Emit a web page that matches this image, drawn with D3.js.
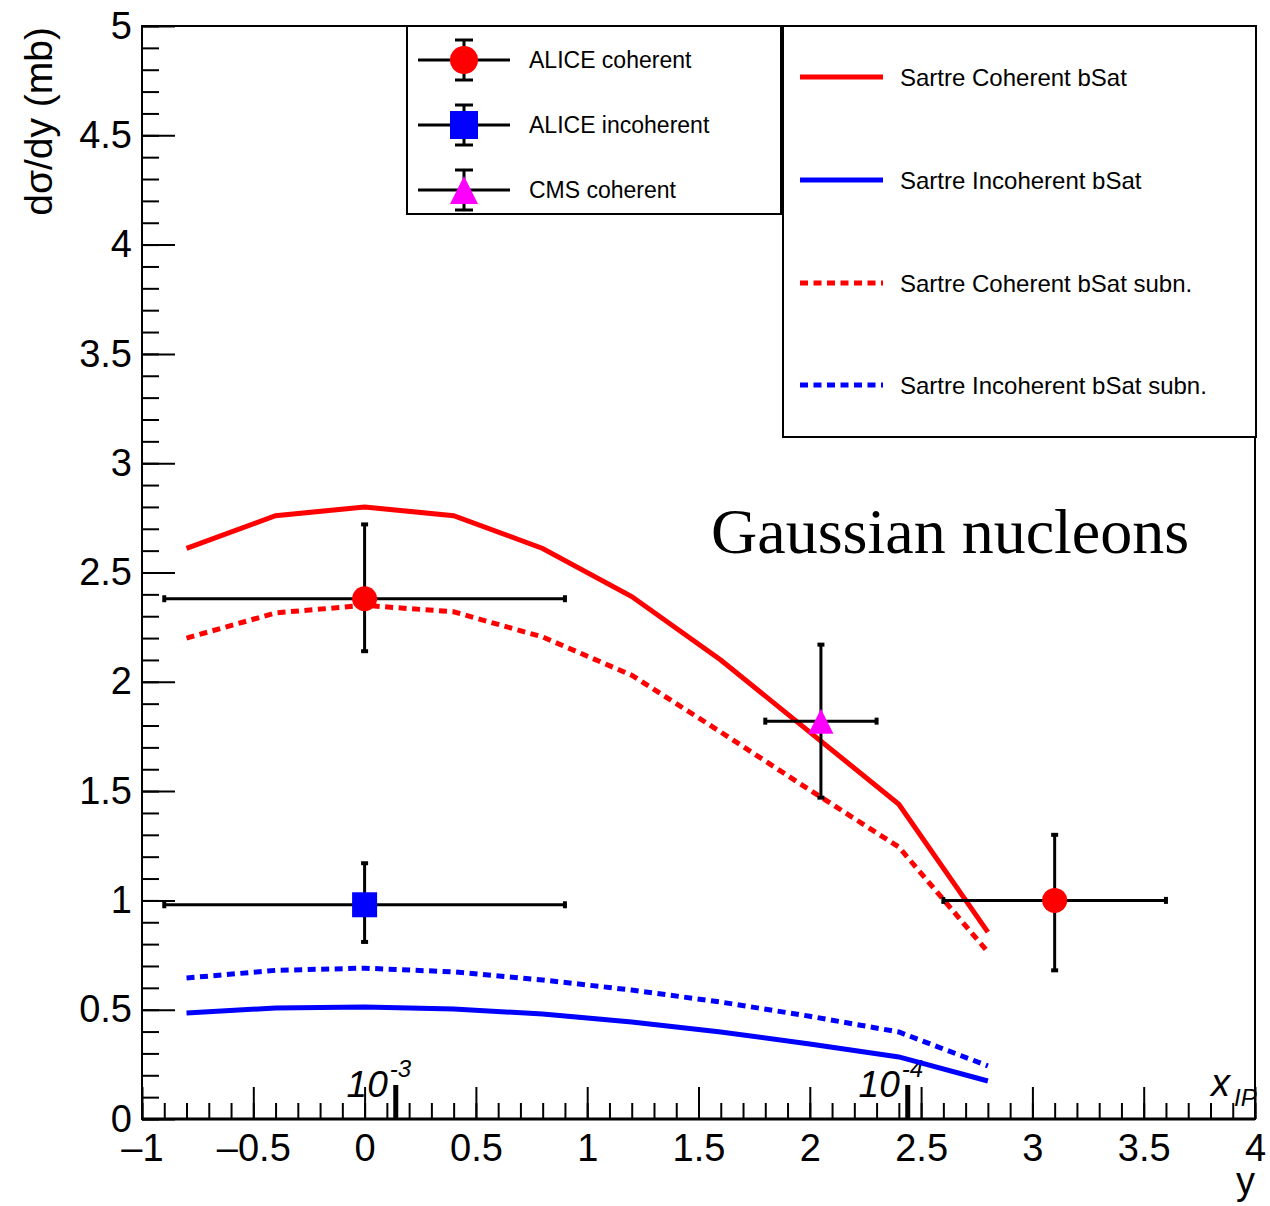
<!DOCTYPE html>
<html>
<head>
<meta charset="utf-8">
<script src="https://cdn.jsdelivr.net/npm/d3@7"></script>
<style>
  body { margin: 0; background: #fff; }
  text { font-family: "Liberation Sans", Arial, sans-serif; }
</style>
</head>
<body>
<div id="chart"></div>
<script>
/* DATA */
// rapidity grid of the Sartre curves
const rapidity = [-0.8, -0.4, 0, 0.4, 0.8, 1.2, 1.6, 2.0, 2.4, 2.8];
const cohBSat = [2.61, 2.76, 2.80, 2.76, 2.61, 2.39, 2.10, 1.77, 1.44, 0.855];
const incohBSat = [0.485, 0.508, 0.512, 0.503, 0.48, 0.444, 0.398, 0.343, 0.284, 0.174];
const cohBSatSubn = [2.20, 2.315, 2.35, 2.32, 2.205, 2.03, 1.77, 1.505, 1.244, 0.764];
const incohBSatSubn = [0.645, 0.68, 0.69, 0.673, 0.636, 0.59, 0.535, 0.47, 0.398, 0.243];

// measurements
const aliceCohY = [0, 3.1];
const aliceCohVal = [2.38, 1.00];
const aliceCohXErr = [0.9, 0.5];
const aliceCohUp = [0.34, 0.30];
const aliceCohDown = [0.24, 0.32];

const aliceIncohY = [0];
const aliceIncohVal = [0.98];
const aliceIncohXErr = [0.9];
const aliceIncohUp = [0.19];
const aliceIncohDown = [0.17];

const cmsCohY = [2.05];
const cmsCohVal = [1.82];
const cmsCohXErr = [0.25];
const cmsCohUp = [0.35];
const cmsCohDown = [0.35];

// x_IP markers on the rapidity axis
const xipPos = [0.14, 2.44];
const xipExp = ["-3", "-4"];

const curveNames = ["Sartre Coherent bSat", "Sartre Incoherent bSat",
                    "Sartre Coherent bSat subn.", "Sartre Incoherent bSat subn."];
const pointNames = ["ALICE coherent", "ALICE incoherent", "CMS coherent"];

/* SIZES */
const W = 1270, H = 1206;
const frame = {left: 142, right: 1255, top: 26, bottom: 1119};

const xScale = d3.scaleLinear().domain([-1, 4]).range([frame.left, frame.right]);
const yScale = d3.scaleLinear().domain([0, 5]).range([frame.bottom, frame.top]);

const svg = d3.select("#chart").append("svg")
  .attr("width", W)
  .attr("height", H);

const fmt = d => d < 0 ? "\u2013" + Math.abs(d) : String(d);

// x axis: minor ticks then major ticks with labels
svg.append("g")
  .attr("transform", "translate(0," + frame.bottom + ")")
  .call(d3.axisBottom(xScale).tickValues(d3.range(-10, 41).map(d => d / 10)).tickSize(-16).tickFormat(""))
  .call(g => g.select(".domain").remove())
  .call(g => g.selectAll("line").attr("stroke-width", 2));

svg.append("g")
  .attr("transform", "translate(0," + frame.bottom + ")")
  .call(d3.axisBottom(xScale).tickValues(d3.range(-2, 9).map(d => d / 2)).tickSize(-32).tickPadding(15).tickFormat(fmt))
  .call(g => g.select(".domain").remove())
  .call(g => g.selectAll("line").attr("stroke-width", 2))
  .call(g => g.selectAll("text").attr("font-size", 38).attr("fill", "#000")
    .style("font-family", "Liberation Sans, Arial, sans-serif"));

// y axis
svg.append("g")
  .attr("transform", "translate(" + frame.left + ",0)")
  .call(d3.axisLeft(yScale).tickValues(d3.range(0, 51).map(d => d / 10)).tickSize(-17).tickFormat(""))
  .call(g => g.select(".domain").remove())
  .call(g => g.selectAll("line").attr("stroke-width", 2));

svg.append("g")
  .attr("transform", "translate(" + frame.left + ",0)")
  .call(d3.axisLeft(yScale).tickValues(d3.range(0, 11).map(d => d / 2)).tickSize(-33).tickPadding(10).tickFormat(d => String(d)))
  .call(g => g.select(".domain").remove())
  .call(g => g.selectAll("line").attr("stroke-width", 2))
  .call(g => g.selectAll("text").attr("font-size", 38).attr("fill", "#000")
    .style("font-family", "Liberation Sans, Arial, sans-serif"));

// frame
svg.append("rect")
  .attr("x", frame.left).attr("y", frame.top)
  .attr("width", frame.right - frame.left)
  .attr("height", frame.bottom - frame.top)
  .attr("fill", "none").attr("stroke", "#000").attr("stroke-width", 2);
svg.append("line")
  .attr("x1", frame.left).attr("x2", frame.right)
  .attr("y1", frame.bottom).attr("y2", frame.bottom)
  .attr("stroke", "#000").attr("stroke-width", 3);

// axis titles
svg.append("text")
  .attr("transform", "translate(52," + (frame.top + 1) + ") rotate(-90)")
  .attr("text-anchor", "end")
  .attr("font-size", 39)
  .text("d\u03c3/dy (mb)");

svg.append("text")
  .attr("x", frame.right).attr("y", 1194)
  .attr("text-anchor", "end")
  .attr("font-size", 38)
  .text("y");

// x_IP markers
xipPos.forEach((p, i) => {
  const px = xScale(p);
  svg.append("line")
    .attr("x1", px).attr("x2", px)
    .attr("y1", frame.bottom).attr("y2", frame.bottom - 34)
    .attr("stroke", "#000").attr("stroke-width", 5);
  svg.append("text")
    .attr("x", px - 8).attr("y", 1097)
    .attr("text-anchor", "end")
    .attr("font-size", 37).attr("font-style", "italic")
    .text("10");
  svg.append("text")
    .attr("x", px - 6).attr("y", 1077)
    .attr("font-size", 24).attr("font-style", "italic")
    .text(xipExp[i]);
});

svg.append("text")
  .attr("x", 1211).attr("y", 1096)
  .attr("font-size", 38).attr("font-style", "italic")
  .text("x");
svg.append("text")
  .attr("x", 1234).attr("y", 1106)
  .attr("font-size", 24).attr("font-style", "italic")
  .text("IP");

// curves
const line = d3.line()
  .x(d => xScale(d[0]))
  .y(d => yScale(d[1]));

const curves = [
  {vals: cohBSat, color: "#ff0000", dash: null},
  {vals: incohBSat, color: "#0000ff", dash: null},
  {vals: cohBSatSubn, color: "#ff0000", dash: "8,5.5"},
  {vals: incohBSatSubn, color: "#0000ff", dash: "8,5.5"}
];

curves.forEach(c => {
  svg.append("path")
    .datum(d3.zip(rapidity, c.vals))
    .attr("d", line)
    .attr("fill", "none")
    .attr("stroke", c.color)
    .attr("stroke-width", 5)
    .attr("stroke-dasharray", c.dash);
});

// error bars + markers
function drawMarker(g, shape, cx, cy, size) {
  if (shape == "circle") {
    g.append("circle").attr("cx", cx).attr("cy", cy).attr("r", size / 2).attr("fill", "#ff0000");
  } else if (shape == "square") {
    g.append("rect").attr("x", cx - size / 2).attr("y", cy - size / 2)
      .attr("width", size).attr("height", size).attr("fill", "#0000ff");
  } else {
    const h = size;
    g.append("path")
      .attr("d", "M" + cx + "," + (cy - h / 2) + "L" + (cx + h / 2) + "," + (cy + h / 2) + "L" + (cx - h / 2) + "," + (cy + h / 2) + "Z")
      .attr("fill", "#ff00ff");
  }
}

function drawPoints(ys, vals, xerr, up, down, shape) {
  const g = svg.append("g");
  ys.forEach((yv, i) => {
    const x0 = xScale(yv - xerr[i]), x1 = xScale(yv + xerr[i]);
    const yc = yScale(vals[i]);
    const yt = yScale(vals[i] + up[i]), yb = yScale(vals[i] - down[i]);
    const cx = xScale(yv);
    g.append("line").attr("x1", x0).attr("x2", x1).attr("y1", yc).attr("y2", yc)
      .attr("stroke", "#000").attr("stroke-width", 3);
    g.append("line").attr("x1", cx).attr("x2", cx).attr("y1", yt).attr("y2", yb)
      .attr("stroke", "#000").attr("stroke-width", 3);
    // end caps
    [[x0, yc, 0], [x1, yc, 0], [cx, yt, 1], [cx, yb, 1]].forEach(c => {
      if (c[2] == 0) {
        g.append("line").attr("x1", c[0]).attr("x2", c[0]).attr("y1", c[1] - 3.5).attr("y2", c[1] + 3.5)
          .attr("stroke", "#000").attr("stroke-width", 4);
      } else {
        g.append("line").attr("x1", c[0] - 3.5).attr("x2", c[0] + 3.5).attr("y1", c[1]).attr("y2", c[1])
          .attr("stroke", "#000").attr("stroke-width", 4);
      }
    });
    drawMarker(g, shape, cx, yc, 25);
  });
}

drawPoints(aliceCohY, aliceCohVal, aliceCohXErr, aliceCohUp, aliceCohDown, "circle");
drawPoints(aliceIncohY, aliceIncohVal, aliceIncohXErr, aliceIncohUp, aliceIncohDown, "square");
drawPoints(cmsCohY, cmsCohVal, cmsCohXErr, cmsCohUp, cmsCohDown, "triangle");

// label
svg.append("text")
  .attr("x", 711).attr("y", 553)
  .attr("font-size", 64)
  .style("font-family", "Liberation Serif, Times New Roman, serif")
  .text("Gaussian nucleons");

// legend 1: data points
const leg1 = svg.append("g");
leg1.append("rect")
  .attr("x", 407).attr("y", frame.top).attr("width", 374).attr("height", 188)
  .attr("fill", "#fff").attr("stroke", "#000").attr("stroke-width", 2);
const shapes = ["circle", "square", "triangle"];
const leg1Y = [60, 125, 190];
pointNames.forEach((name, i) => {
  const yy = leg1Y[i];
  leg1.append("line").attr("x1", 418).attr("x2", 510).attr("y1", yy).attr("y2", yy)
    .attr("stroke", "#000").attr("stroke-width", 3);
  leg1.append("line").attr("x1", 464).attr("x2", 464).attr("y1", yy - 20).attr("y2", yy + 20)
    .attr("stroke", "#000").attr("stroke-width", 3);
  [yy - 20, yy + 20].forEach(cy => {
    leg1.append("line").attr("x1", 455).attr("x2", 473).attr("y1", cy).attr("y2", cy)
      .attr("stroke", "#000").attr("stroke-width", 3);
  });
  drawMarker(leg1, shapes[i], 464, yy, 28);
  leg1.append("text")
    .attr("x", 529).attr("y", yy + 8)
    .attr("font-size", 23)
    .text(name);
});

// legend 2: curves
const leg2 = svg.append("g");
leg2.append("rect")
  .attr("x", 783).attr("y", frame.top).attr("width", 473).attr("height", 411)
  .attr("fill", "#fff").attr("stroke", "#000").attr("stroke-width", 2);
const leg2Y = [77, 180, 283, 385];
curveNames.forEach((name, i) => {
  const yy = leg2Y[i];
  leg2.append("line").attr("x1", 800).attr("x2", 883).attr("y1", yy).attr("y2", yy)
    .attr("stroke", curves[i].color).attr("stroke-width", 5)
    .attr("stroke-dasharray", curves[i].dash);
  leg2.append("text")
    .attr("x", 900).attr("y", yy + 9)
    .attr("font-size", 24)
    .text(name);
});
</script>
</body>
</html>
